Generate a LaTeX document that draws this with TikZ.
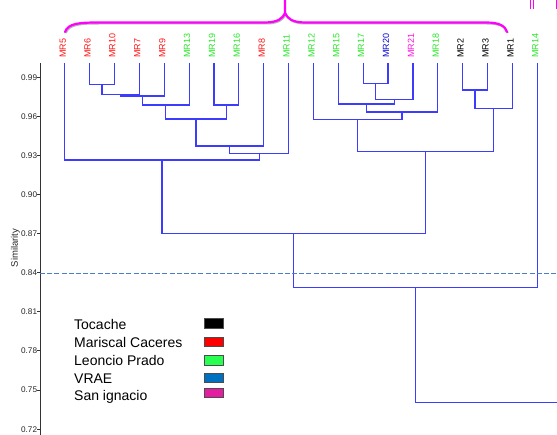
\documentclass[tikz,border=0pt]{standalone}
\usepackage{fontspec}
\setmainfont{Liberation Sans}
\definecolor{dendblue}{RGB}{60,60,255}
\definecolor{cutblue}{RGB}{75,125,200}
\definecolor{lblred}{RGB}{255,20,20}
\definecolor{lblgreen}{RGB}{40,230,40}
\definecolor{lblblue}{RGB}{10,10,210}
\definecolor{lblmag}{RGB}{255,20,220}
\definecolor{bracemag}{RGB}{255,0,255}
\definecolor{legred}{RGB}{255,0,0}
\definecolor{leggreen}{RGB}{40,255,80}
\definecolor{legblue}{RGB}{0,112,192}
\definecolor{legmag}{RGB}{228,30,160}
\tikzset{
  dend/.style={draw=dendblue, line width=1.2pt},
  leaf/.style={rotate=90, anchor=west, inner sep=0pt, font=\fontsize{9}{9}\selectfont},
  ticklbl/.style={anchor=east, inner sep=0pt, font=\fontsize{8.2}{8.2}\selectfont, text=black!85},
  legtext/.style={anchor=base west, inner sep=0pt, font=\fontsize{14}{14}\selectfont},
  legbox/.style={draw=black!70, line width=1pt, minimum width=19pt, minimum height=9.5pt, inner sep=0pt},
  bracestyle/.style={draw=bracemag, line width=2.2pt, line cap=round}
}
\begin{document}
\begin{tikzpicture}[x=1pt,y=-1pt]
\useasboundingbox (0,0) rectangle (557,435);
\clip (0,0) rectangle (557,435);

% ---- brace with shadow ----
\draw[draw=black!30, line width=2pt] (65.8,33) .. controls (68.8,24) and (80.8,23.5) .. (100.8,23.5) -- (265.8,23.5)
  .. controls (278.8,23.5) and (283.8,19) .. (285.8,14) .. controls (287.8,19) and (292.8,23.5) .. (305.8,23.5)
  -- (486.8,23.5) .. controls (500.8,23.5) and (505.8,27) .. (507.8,33);
\coordinate (bt) at (285,-2);
\coordinate (bp) at (285,13);
\coordinate (m1a) at (530.3,-2); \coordinate (m1b) at (530.3,9);
\coordinate (m2a) at (533.6,-2); \coordinate (m2b) at (533.6,9);
\coordinate (m3a) at (556.2,-2); \coordinate (m3b) at (556.2,9);
\draw[bracestyle] (65,32) .. controls (68,23) and (80,22.5) .. (100,22.5) -- (265,22.5)
  .. controls (278,22.5) and (283,18) .. (285,13) .. controls (287,18) and (292,22.5) .. (305,22.5)
  -- (486,22.5) .. controls (500,22.5) and (505,26) .. (507,32)
  (bt) -- (bp);
\draw[draw=bracemag, line width=1.3pt] (m1a) -- (m1b) (m2a) -- (m2b) (m3a) -- (m3b);

% ---- leaf tops ----
\coordinate (L5)  at (64.7,63);
\coordinate (L6)  at (89.6,63);
\coordinate (L10) at (114.4,63);
\coordinate (L7)  at (139.3,63);
\coordinate (L9)  at (164.2,63);
\coordinate (L13) at (189.1,63);
\coordinate (L19) at (214.0,63);
\coordinate (L16) at (238.8,63);
\coordinate (L8)  at (263.7,63);
\coordinate (L11) at (288.5,63);
\coordinate (L12) at (313.4,63);
\coordinate (L15) at (338.3,63);
\coordinate (L17) at (363.1,63);
\coordinate (L20) at (388.0,63);
\coordinate (L21) at (412.9,63);
\coordinate (L18) at (437.7,63);
\coordinate (L2)  at (462.6,63);
\coordinate (L3)  at (487.5,63);
\coordinate (L1)  at (512.4,63);
\coordinate (L14) at (537.2,63);

% ---- merge points ----
\coordinate (c1) at (102.0,84.3);
\coordinate (c2) at (120.65,94.8);
\coordinate (c3) at (142.43,96.0);
\coordinate (c4) at (165.76,105);
\coordinate (c5) at (226.4,105);
\coordinate (c6) at (196.08,119);
\coordinate (c7) at (229.89,146);
\coordinate (c8) at (259.2,153.3);
\coordinate (c9) at (161.95,160);
\coordinate (d1) at (375.55,83.3);
\coordinate (d2) at (394.23,99.3);
\coordinate (d3) at (366.26,104);
\coordinate (d4) at (401.98,112);
\coordinate (d5) at (357.69,119.7);
\coordinate (e1) at (475.05,90);
\coordinate (e2) at (493.73,108.7);
\coordinate (d6) at (425.71,151.7);
\coordinate (f1) at (293.83,233.5);
\coordinate (f2) at (415.52,287.3);
\coordinate (f3) at (415.52,402.3);
\coordinate (fe) at (560,402.3);

\draw[dend]
  (L6) |- (c1) -| (L10)
  (c1) |- (c2) -| (L7)
  (c2) |- (c3) -| (L9)
  (c3) |- (c4) -| (L13)
  (L19) |- (c5) -| (L16)
  (c4) |- (c6) -| (c5)
  (c6) |- (c7) -| (L8)
  (c7) |- (c8) -| (L11)
  (L5) |- (c9) -| (c8)
  (L17) |- (d1) -| (L20)
  (d1) |- (d2) -| (L21)
  (L15) |- (d3) -| (d2)
  (d3) |- (d4) -| (L18)
  (L12) |- (d5) -| (d4)
  (L2) |- (e1) -| (L3)
  (e1) |- (e2) -| (L1)
  (d5) |- (d6) -| (e2)
  (c9) |- (f1) -| (d6)
  (f1) |- (f2) -| (L14)
  (f2) -- (f3) -- (fe);

% ---- axis ----
\coordinate (ax0) at (40,63);
\coordinate (ax1) at (40,440);
\draw[draw=black!80, line width=1pt] (ax0) -- (ax1)
  \foreach \k in {0,...,9}{ (37,77.3+39.1*\k) -- (40,77.3+39.1*\k) };
\foreach \v/\k in {0.99/0,0.96/1,0.93/2,0.90/3,0.87/4,0.84/5,0.81/6,0.78/7,0.75/8,0.72/9}{
  \node[ticklbl] (tick\k) at (37.3,77.3+39.1*\k) {\v};
}
\node[rotate=90, inner sep=0pt, font=\fontsize{9.5}{9.5}\selectfont, text=black!85] (ylab) at (15.5,248) {Similarity};

% ---- cut line ----
\coordinate (cut0) at (40,273.5);
\coordinate (cut1) at (560,273.5);
\draw[draw=cutblue, line width=1.4pt, dash pattern=on 5pt off 2.2pt] (cut0) -- (cut1);

% ---- leaf labels ----
\node[leaf, text=lblred]   (t5)  at (62.7,58) {MR5};
\node[leaf, text=lblred]   (t6)  at (87.6,58) {MR6};
\node[leaf, text=lblred]   (t10) at (112.4,58) {MR10};
\node[leaf, text=lblred]   (t7)  at (137.3,58) {MR7};
\node[leaf, text=lblred]   (t9)  at (162.2,58) {MR9};
\node[leaf, text=lblgreen] (t13) at (187.1,58) {MR13};
\node[leaf, text=lblgreen] (t19) at (212.0,58) {MR19};
\node[leaf, text=lblgreen] (t16) at (236.8,58) {MR16};
\node[leaf, text=lblred]   (t8)  at (261.7,58) {MR8};
\node[leaf, text=lblgreen] (t11) at (286.5,58) {MR11};
\node[leaf, text=lblgreen] (t12) at (311.4,58) {MR12};
\node[leaf, text=lblgreen] (t15) at (336.3,58) {MR15};
\node[leaf, text=lblgreen] (t17) at (361.1,58) {MR17};
\node[leaf, text=lblblue]  (t20) at (386.0,58) {MR20};
\node[leaf, text=lblmag]   (t21) at (410.9,58) {MR21};
\node[leaf, text=lblgreen] (t18) at (435.7,58) {MR18};
\node[leaf, text=black]    (t2)  at (460.6,58) {MR2};
\node[leaf, text=black]    (t3)  at (485.5,58) {MR3};
\node[leaf, text=black]    (t1)  at (510.4,58) {MR1};
\node[leaf, text=lblgreen] (t14) at (535.2,58) {MR14};

% ---- legend ----
\node[legtext] (g1) at (74,329.3) {Tocache};
\node[legtext] (g2) at (74,347.3) {Mariscal Caceres};
\node[legtext] (g3) at (74,365.3) {Leoncio Prado};
\node[legtext] (g4) at (74,383.3) {VRAE};
\node[legtext] (g5) at (74,401.0) {San ignacio};
\node[legbox, fill=black]    (k1) at (213.8,323.7) {};
\node[legbox, fill=legred]   (k2) at (213.8,341.8) {};
\node[legbox, fill=leggreen] (k3) at (213.8,360.7) {};
\node[legbox, fill=legblue]  (k4) at (213.8,378.2) {};
\node[legbox, fill=legmag]   (k5) at (213.8,392.8) {};
\end{tikzpicture}
\end{document}
